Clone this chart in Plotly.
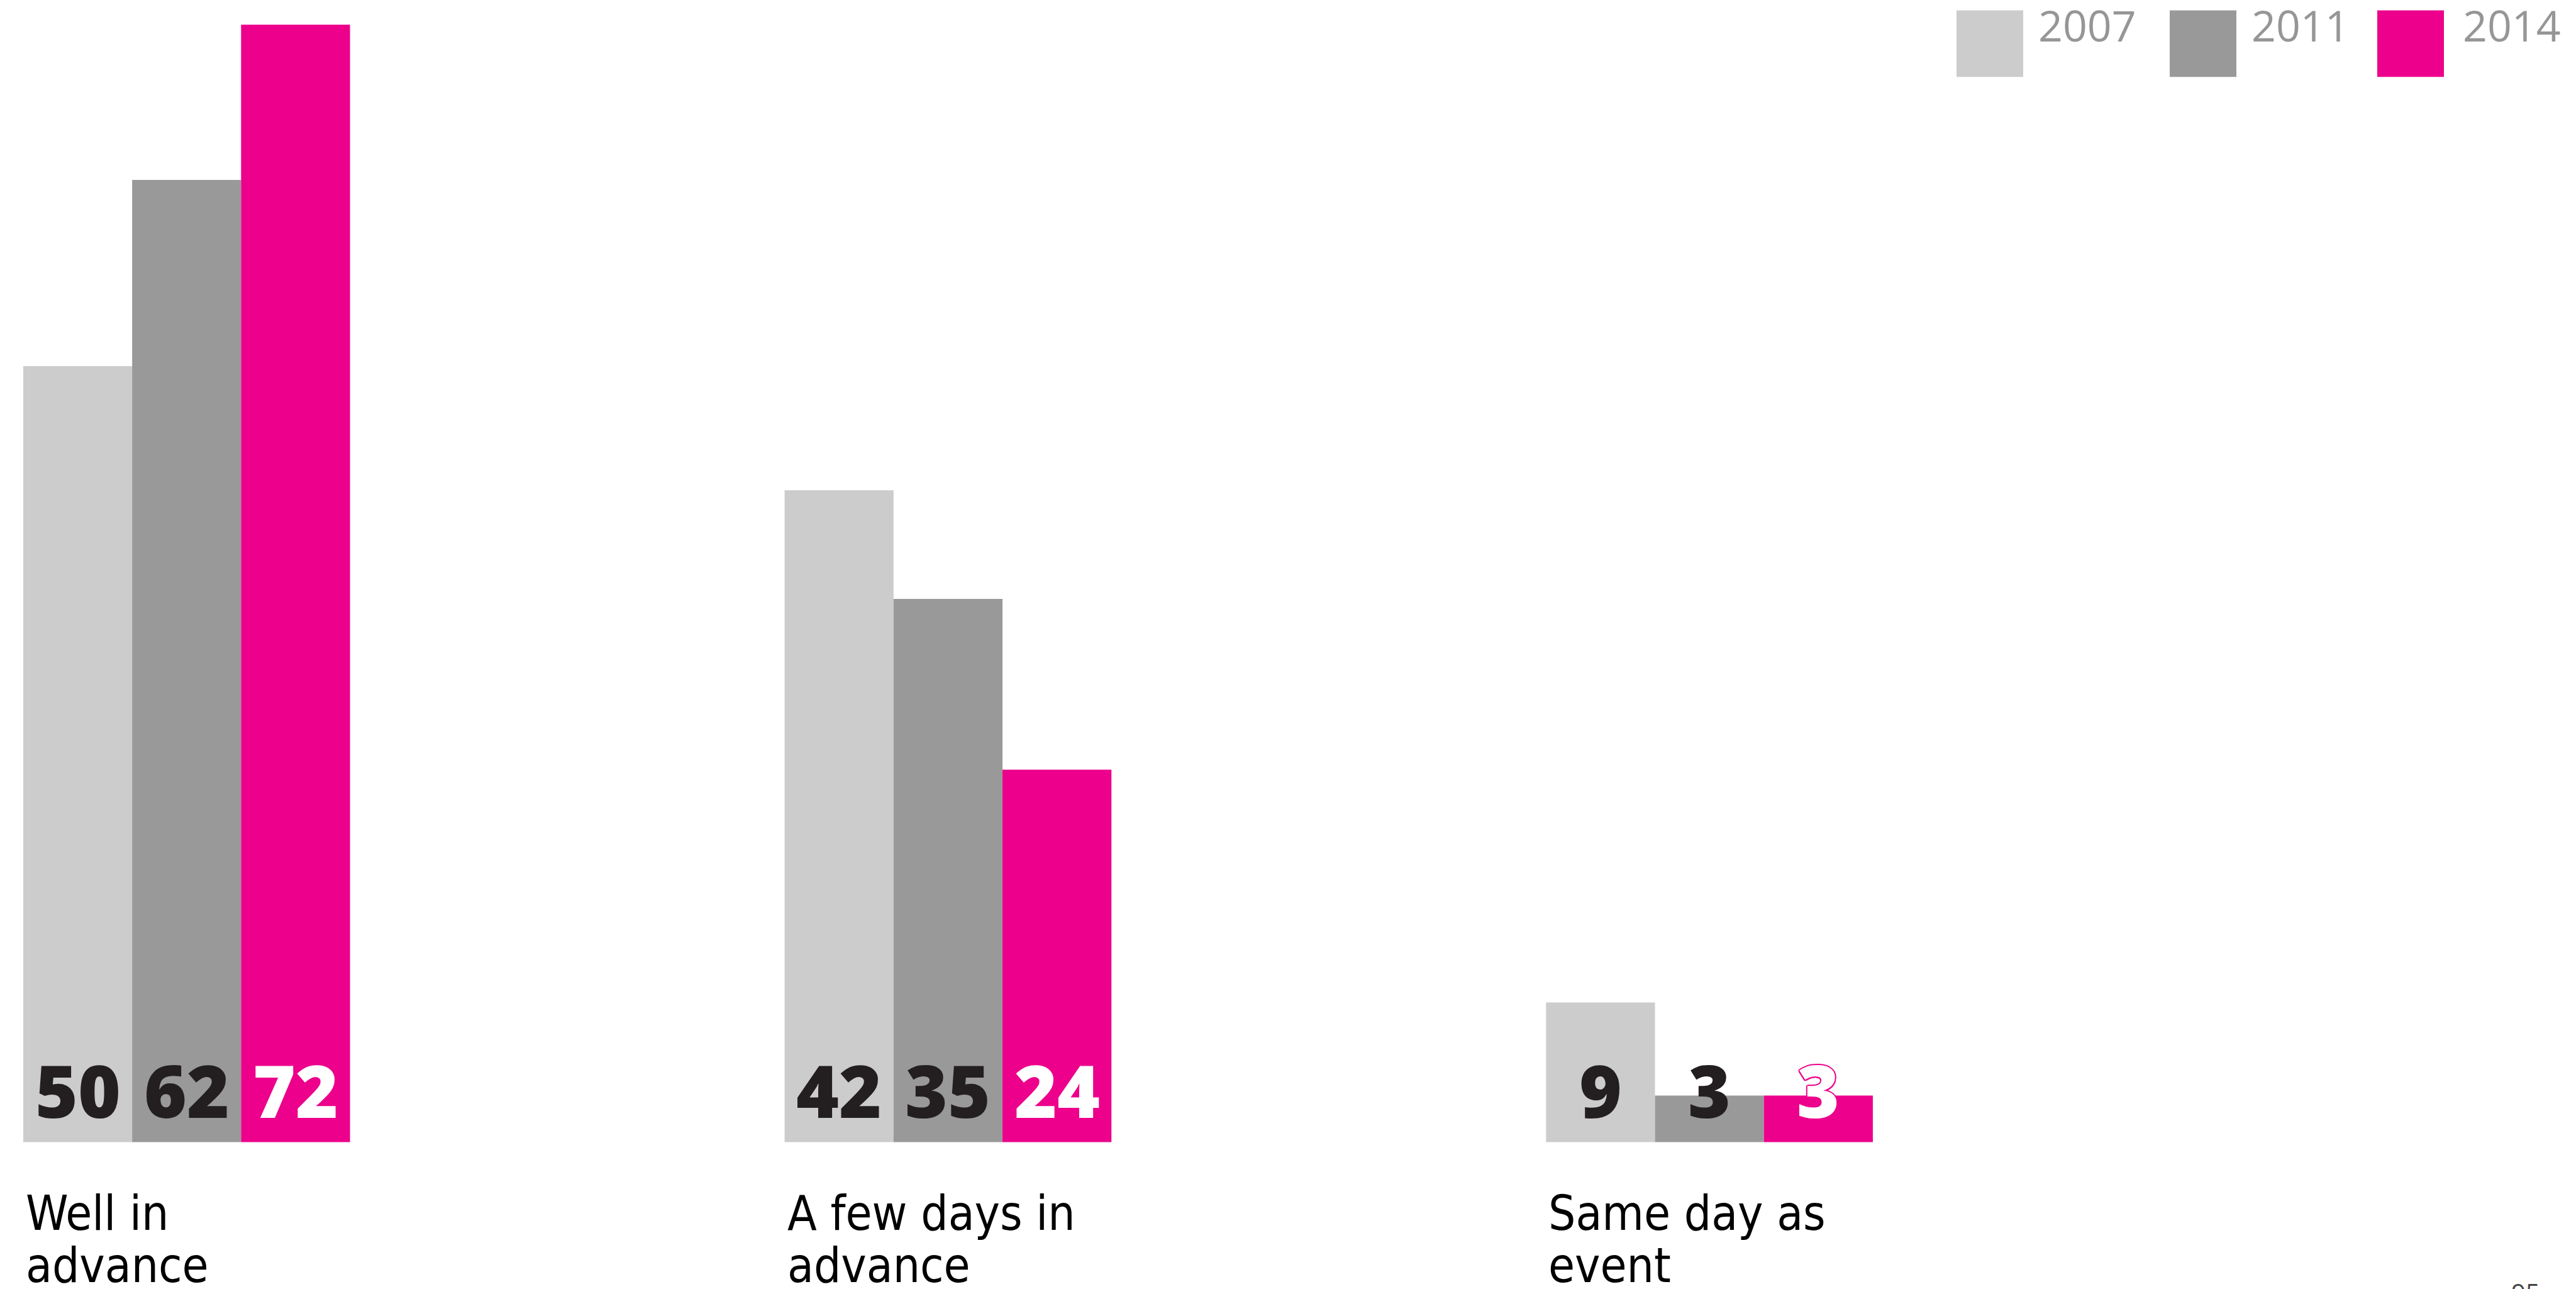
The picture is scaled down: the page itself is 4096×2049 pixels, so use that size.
import plotly.graph_objects as go

# Share of respondents, by booking timing and survey year
categories = ["Well in advance", "A few days in advance", "Same day as event"]
category_lines = [["Well in", "advance"], ["A few days in", "advance"], ["Same day as", "event"]]
years = ["2007", "2011", "2014"]
values_2007 = [50, 42, 9]
values_2011 = [62, 35, 3]
values_2014 = [72, 24, 3]

series = [values_2007, values_2011, values_2014]
bar_colors = ["#cccccc", "#999999", "#ec008c"]
label_colors = ["#231f20", "#231f20", "#ffffff"]

W, H = 4096, 2049
BARGAP = 0.5708
bar_w = (1 - BARGAP) / len(years)

fig = go.Figure()
for name, vals, col in zip(years, series, bar_colors):
    fig.add_trace(go.Bar(
        x=categories, y=vals, name=name,
        marker=dict(color=col, line=dict(width=0)),
        hoverinfo="skip", showlegend=False,
    ))

annotations = []
pink = "#ec008c"
outline = ", ".join(f"{dx}px {dy}px 0 {pink}" for dx, dy in
                    [(2, 0), (-2, 0), (0, 2), (0, -2), (1.5, 1.5), (-1.5, 1.5), (1.5, -1.5), (-1.5, -1.5)])

# value labels sitting at the foot of each bar
for k, (vals, tcol) in enumerate(zip(series, label_colors)):
    for i, v in enumerate(vals):
        font = dict(family="Open Sans, Liberation Sans, sans-serif", size=116,
                    color=tcol, weight=800)
        if k == 2:
            font["shadow"] = outline
        annotations.append(dict(
            x=i + (k - 1) * bar_w, y=0, xref="x", yref="y",
            text=str(v), showarrow=False, xanchor="center", yanchor="middle",
            yshift=83, borderpad=0, font=font,
        ))

# category captions, left-aligned under each group, set line by line
cat_font = dict(family="DejaVu Sans Condensed, Liberation Sans Narrow, sans-serif",
                size=76, color="#000000")
line_y = [0.0587, 0.0182]
for i, lines in enumerate(category_lines):
    for j, ln in enumerate(lines):
        annotations.append(dict(
            x=i - (1 - BARGAP) / 2, y=line_y[j], xref="x", yref="paper",
            text=ln, showarrow=False, xanchor="left", yanchor="middle",
            xshift=3, borderpad=0, font=cat_font,
        ))

# legend: swatches and year labels in the top-right corner
shapes = []
swatch_x = [3111, 3450, 3780]
text_x = [3240, 3579, 3915]
for yr, col, sx, tx in zip(years, bar_colors, swatch_x, text_x):
    shapes.append(dict(type="rect", xref="paper", yref="paper",
                       x0=sx / W, x1=(sx + 106) / W,
                       y0=1 - 122.3 / H, y1=1 - 16.6 / H,
                       fillcolor=col, line=dict(width=0)))
    annotations.append(dict(
        x=tx / W, y=1 - 39.1 / H, xref="paper", yref="paper",
        text=yr, showarrow=False, xanchor="left", yanchor="middle", borderpad=0,
        font=dict(family="Open Sans, sans-serif", size=68, color="#969696"),
    ))

# page number at the bottom edge
annotations.append(dict(
    x=3992 / W, y=1 - 2026 / H, xref="paper", yref="paper",
    text="95", showarrow=False, xanchor="left", yanchor="top", borderpad=0,
    font=dict(family="Open Sans, sans-serif", size=40, color="#444444"),
))

fig.update_layout(
    width=W, height=H,
    margin=dict(l=0, r=0, t=0, b=0),
    paper_bgcolor="#ffffff", plot_bgcolor="#ffffff",
    barmode="group", bargap=BARGAP, bargroupgap=0,
    xaxis=dict(range=[-0.2451, 3.1381], visible=False, fixedrange=True),
    yaxis=dict(range=[-9.465, 73.59], visible=False, fixedrange=True),
    annotations=annotations, shapes=shapes,
    showlegend=False,
)

fig.write_html("out.html", config={"displayModeBar": False})
